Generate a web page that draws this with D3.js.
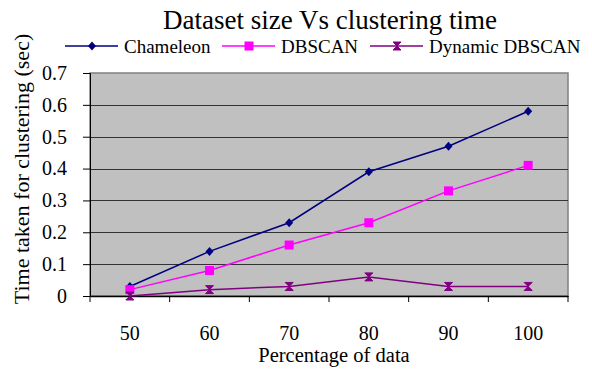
<!DOCTYPE html>
<html>
<head>
<meta charset="utf-8">
<script src="https://cdn.jsdelivr.net/npm/d3@7"></script>
<style>
  body { margin: 0; background: #fff; }
</style>
</head>
<body>
<svg id="chart"></svg>
<script>
const categories = ["50", "60", "70", "80", "90", "100"];
const chameleon = [0.03, 0.14, 0.23, 0.39, 0.47, 0.58];
const dbscan = [0.02, 0.08, 0.16, 0.23, 0.33, 0.41];
const dynamicDbscan = [0, 0.02, 0.03, 0.06, 0.03, 0.03];
const yTicks = [0, 0.1, 0.2, 0.3, 0.4, 0.5, 0.6, 0.7];

const series = [
  {name: "Chameleon", values: chameleon, color: "#000080", marker: "diamond"},
  {name: "DBSCAN", values: dbscan, color: "#ff00ff", marker: "square"},
  {name: "Dynamic DBSCAN", values: dynamicDbscan, color: "#800080", marker: "bowtie"}
];

const serif = "'Liberation Serif', 'Times New Roman', serif";

const margin = {top: 73, right: 24, bottom: 74, left: 90},
      width = 592 - margin.left - margin.right,
      height = 370 - margin.top - margin.bottom;

const root = d3.select("#chart")
    .attr("width", 592)
    .attr("height", 370);

const svg = root.append("g")
    .attr("transform", `translate(${margin.left},${margin.top})`);

const x = d3.scaleBand()
    .domain(categories)
    .range([0, width]);

const y = d3.scaleLinear()
    .domain([0, 0.7])
    .range([height, 0]);

// plot area
svg.append("rect")
    .attr("width", width)
    .attr("height", height)
    .attr("fill", "#c0c0c0")
    .attr("stroke", "#808080")
    .attr("stroke-width", 1.5);

// gridlines
svg.selectAll(".grid")
    .data(yTicks.slice(1, -1))
    .enter().append("line")
    .attr("x1", 0)
    .attr("x2", width)
    .attr("y1", d => Math.round(y(d)) + 0.5)
    .attr("y2", d => Math.round(y(d)) + 0.5)
    .attr("stroke", "#333")
    .attr("stroke-width", 1);

// axes
const yAxis = svg.append("g")
    .call(d3.axisLeft(y).tickValues(yTicks).tickSize(7).tickPadding(16)
      .tickFormat(d => d === 0 ? "0" : d3.format(".1f")(d)));
yAxis.attr("font-family", serif).attr("font-size", 20);
yAxis.select(".domain").attr("stroke", "#000");
yAxis.selectAll(".tick line").attr("stroke", "#000");

const xAxis = svg.append("g")
    .attr("transform", `translate(0,${height})`)
    .call(d3.axisBottom(x).tickSize(0).tickPadding(30));
xAxis.attr("font-family", serif).attr("font-size", 20);
xAxis.select(".domain").attr("stroke", "#000").attr("stroke-width", 1.5);

// x tick marks at band boundaries
const bounds = categories.map(c => x(c)).concat([width]);
svg.append("g")
    .selectAll("line")
    .data(bounds)
    .enter().append("line")
    .attr("x1", d => d)
    .attr("x2", d => d)
    .attr("y1", height)
    .attr("y2", height + 6)
    .attr("stroke", "#000");

const cx = (d, i) => x(categories[i]) + x.bandwidth() / 2;

function marker(sel, type, color) {
  if (type === "diamond") {
    sel.append("path").attr("d", "M0,-4.5L4,0L0,4.5L-4,0Z").attr("fill", color);
  } else if (type === "square") {
    sel.append("rect").attr("x", -4.5).attr("y", -4.5).attr("width", 9).attr("height", 9).attr("fill", color);
  } else {
    sel.append("path").attr("d", "M-4,-4L4,-4L0,0L4,4L-4,4L0,0Z").attr("fill", color)
      .attr("stroke", color).attr("stroke-width", 1);
  }
}

const line = d3.line()
    .x(cx)
    .y(d => y(d));

series.forEach(s => {
  svg.append("path")
      .datum(s.values)
      .attr("fill", "none")
      .attr("stroke", s.color)
      .attr("stroke-width", 1.5)
      .attr("d", line);

  svg.selectAll(null)
      .data(s.values)
      .enter().append("g")
      .attr("transform", (d, i) => `translate(${cx(d, i)},${y(d)})`)
      .each(function() { marker(d3.select(this), s.marker, s.color); });
});

// title
root.append("text")
    .attr("x", 330)
    .attr("y", 29)
    .attr("text-anchor", "middle")
    .attr("font-family", serif)
    .attr("font-size", 27)
    .text("Dataset size Vs clustering time");

// legend
const legendX = [65, 222, 370];
series.forEach((s, i) => {
  const g = root.append("g").attr("transform", `translate(${legendX[i]},46)`);
  g.append("line").attr("x1", 0).attr("x2", 53).attr("stroke", s.color).attr("stroke-width", 1.5);
  marker(g.append("g").attr("transform", "translate(27,0)"), s.marker, s.color);
  g.append("text")
      .attr("x", 59)
      .attr("y", 7)
      .attr("font-family", serif)
      .attr("font-size", 19)
      .text(s.name);
});

// axis labels
root.append("text")
    .attr("x", 334)
    .attr("y", 362)
    .attr("text-anchor", "middle")
    .attr("font-family", serif)
    .attr("font-size", 20.5)
    .text("Percentage of data");

root.append("text")
    .attr("transform", "rotate(-90)")
    .attr("x", -169)
    .attr("y", 29)
    .attr("text-anchor", "middle")
    .attr("font-family", serif)
    .attr("font-size", 22)
    .text("Time taken for clustering (sec)");
</script>
</body>
</html>
